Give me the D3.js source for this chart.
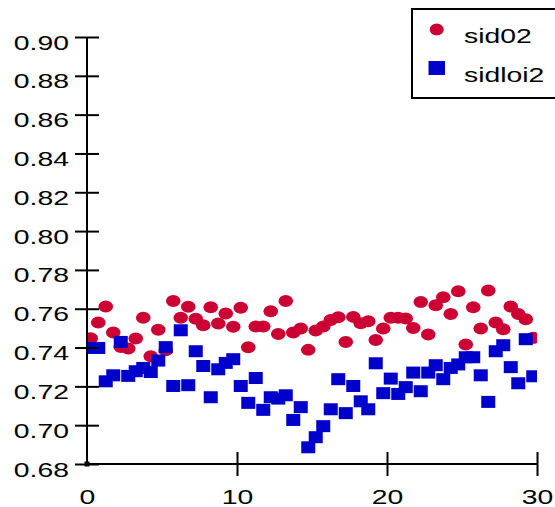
<!DOCTYPE html>
<html>
<head>
<meta charset="utf-8">
<script src="https://cdn.jsdelivr.net/npm/d3@7"></script>
<style>
  body { margin: 0; background: #fff; }
  text { font-family: "Liberation Sans", Arial, Helvetica, sans-serif; fill: #000; }
</style>
</head>
<body>
<svg id="chart" width="555" height="507"></svg>
<script>
// Sample positions along the x axis
const xs = [0.25,0.75,1.25,1.75,2.25,2.75,3.25,3.75,4.25,4.75,
            5.25,5.75,6.25,6.75,7.25,7.75,8.25,8.75,9.25,9.75,
            10.25,10.75,11.25,11.75,12.25,12.75,13.25,13.75,14.25,14.75,
            15.25,15.75,16.25,16.75,17.25,17.75,18.25,18.75,19.25,19.75,
            20.25,20.75,21.25,21.75,22.25,22.75,23.25,23.75,24.25,24.75,
            25.25,25.75,26.25,26.75,27.25,27.75,28.25,28.75,29.25,29.75];

const sid02 = [0.7448,0.7529,0.7611,0.7477,0.7403,0.7395,0.7446,0.7553,0.7355,0.7492,
               0.7386,0.7640,0.7553,0.7610,0.7548,0.7515,0.7608,0.7524,0.7576,0.7507,
               0.7605,0.7402,0.7508,0.7508,0.7587,0.7470,0.7640,0.7477,0.7498,0.7388,
               0.7488,0.7508,0.7542,0.7556,0.7429,0.7558,0.7525,0.7536,0.7439,0.7498,
               0.7553,0.7553,0.7550,0.7501,0.7635,0.7467,0.7618,0.7659,0.7573,0.7690,
               0.7416,0.7608,0.7498,0.7694,0.7529,0.7494,0.7611,0.7573,0.7546,0.7450];

const sidloi2 = [0.7398,0.7398,0.7226,0.7257,0.7429,0.7254,0.7278,0.7295,0.7274,0.7333,
                 0.7402,0.7202,0.7489,0.7206,0.7381,0.7305,0.7144,0.7288,0.7321,0.7340,
                 0.7202,0.7115,0.7243,0.7079,0.7144,0.7137,0.7154,0.7027,0.7093,0.6886,
                 0.6938,0.6995,0.7082,0.7237,0.7062,0.7202,0.7123,0.7082,0.7319,0.7165,
                 0.7240,0.7161,0.7196,0.7271,0.7175,0.7271,0.7309,0.7237,0.7295,0.7313,
                 0.7350,0.7350,0.7257,0.7120,0.7381,0.7412,0.7299,0.7216,0.7443,0.7252];

const seriesNames = ["sid02", "sidloi2"];
const xTicks = [0, 10, 20, 30];
const yTicks = [0.68, 0.70, 0.72, 0.74, 0.76, 0.78, 0.80, 0.82, 0.84, 0.86, 0.88, 0.90];

const RED = "#cc0033";
const BLUE = "#0000cc";
const STRETCH = "scale(1.35,1)";

const svg = d3.select("#chart");
const x = d3.scaleLinear().domain([0, 30]).range([87, 537]);
const y = d3.scaleLinear().domain([0.68, 0.90]).range([464, 37]);

// plotting area clip (points are cut at the axes)
svg.append("clipPath").attr("id", "plotClip")
  .append("rect").attr("x", x(0)).attr("y", 0).attr("width", x(30) - x(0)).attr("height", 507);

const plot = svg.append("g").attr("clip-path", "url(#plotClip)");

// sid02: red ellipses
plot.append("g").selectAll("ellipse")
  .data(sid02.map((v, i) => [xs[i], v]))
  .join("ellipse")
  .attr("cx", d => x(d[0]))
  .attr("cy", d => y(d[1]))
  .attr("rx", 7.3).attr("ry", 6)
  .attr("fill", RED);

// sidloi2: blue squares
plot.append("g").selectAll("rect")
  .data(sidloi2.map((v, i) => [xs[i], v]))
  .join("rect")
  .attr("x", d => x(d[0]) - 7)
  .attr("y", d => y(d[1]) - 6)
  .attr("width", 14).attr("height", 12)
  .attr("fill", BLUE);

// y axis
const gy = svg.append("g").attr("transform", `translate(${x(0)},0)`)
  .call(d3.axisLeft(y).tickValues(yTicks).tickFormat(d3.format(".2f")).tickSizeOuter(0));
gy.select(".domain").remove();
gy.selectAll(".tick line")
  .attr("x1", -12).attr("x2", 12)
  .attr("stroke", "#000").attr("stroke-width", 2);
gy.selectAll(".tick text")
  .attr("x", 0).attr("dy", null)
  .attr("transform", "translate(-18,12) " + STRETCH)
  .attr("text-anchor", "end")
  .style("font-size", "21px")
  .style("font-family", '"Liberation Sans", Arial, sans-serif')
  .attr("fill", "#000");
gy.append("line")
  .attr("x1", 0).attr("x2", 0).attr("y1", y(0.90)).attr("y2", y(0.68) + 2)
  .attr("stroke", "#000").attr("stroke-width", 2);

// x axis
const gx = svg.append("g").attr("transform", `translate(0,${y(0.68)})`)
  .call(d3.axisBottom(x).tickValues(xTicks).tickFormat(d3.format("d")).tickSizeOuter(0));
gx.select(".domain").remove();
gx.selectAll(".tick line")
  .attr("y1", -12).attr("y2", 12)
  .attr("stroke", "#000").attr("stroke-width", 2)
  .attr("display", d => d === 0 ? "none" : null);
gx.selectAll(".tick text")
  .attr("y", 0).attr("dy", null)
  .attr("transform", "translate(0,40) " + STRETCH)
  .attr("text-anchor", "middle")
  .style("font-size", "21px")
  .style("font-family", '"Liberation Sans", Arial, sans-serif')
  .attr("fill", "#000");
gx.append("line")
  .attr("x1", x(0)).attr("x2", x(30)).attr("y1", 0).attr("y2", 0)
  .attr("stroke", "#000").attr("stroke-width", 2);
gx.append("rect")
  .attr("x", x(0) - 2.5).attr("y", -2.5).attr("width", 5).attr("height", 5)
  .attr("fill", "#000");

// legend
const lg = svg.append("g");
lg.append("rect")
  .attr("x", 412).attr("y", 9).attr("width", 170).attr("height", 89)
  .attr("fill", "#fff").attr("stroke", "#000").attr("stroke-width", 2);
lg.append("ellipse")
  .attr("cx", 436.7).attr("cy", 29.5).attr("rx", 7).attr("ry", 6)
  .attr("fill", RED);
lg.append("rect")
  .attr("x", 428.5).attr("y", 61).attr("width", 16.5).attr("height", 14)
  .attr("fill", BLUE);
lg.selectAll("text.lab")
  .data(seriesNames)
  .join("text")
  .attr("class", "lab")
  .attr("transform", (d, i) => `translate(464,${i === 0 ? 43.3 : 81.7}) ${STRETCH}`)
  .style("font-size", "21px")
  .text(d => d);
</script>
</body>
</html>
